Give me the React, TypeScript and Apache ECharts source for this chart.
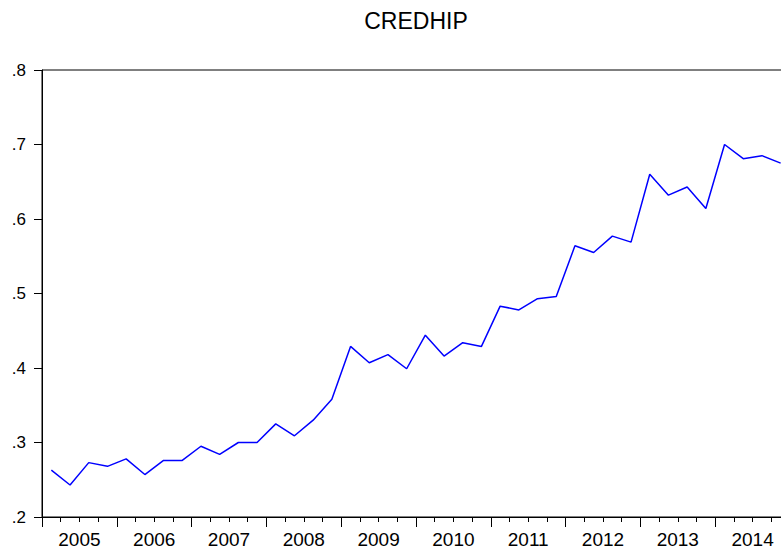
import React, { useEffect, useRef } from "react";
import * as echarts from "echarts";

const quarters: string[] = [];
const years = ["2005", "2006", "2007", "2008", "2009", "2010", "2011", "2012", "2013", "2014"];
for (const y of years) for (let q = 1; q <= 4; q++) quarters.push(`${y}Q${q}`);

const credhip = [
  0.263, 0.243, 0.273, 0.268, 0.278, 0.257, 0.276, 0.276,
  0.295, 0.284, 0.300, 0.300, 0.325, 0.309, 0.330, 0.358,
  0.429, 0.407, 0.418, 0.399, 0.444, 0.416, 0.434, 0.429,
  0.483, 0.478, 0.493, 0.496, 0.564, 0.555, 0.577, 0.569,
  0.660, 0.632, 0.643, 0.614, 0.700, 0.681, 0.685, 0.675,
];

const yMin = 0.2;
const yMax = 0.8;
const yStep = 0.1;

export default function App() {
  const ref = useRef<HTMLDivElement>(null);
  useEffect(() => {
    if (!ref.current) return;
    const chart = echarts.init(ref.current, undefined, { renderer: "svg" });
    const font = "'Liberation Sans', Arial, sans-serif";
    chart.setOption({
      animation: false,
      backgroundColor: "#ffffff",
      textStyle: { fontFamily: font },
      grid: {
        left: 42,
        top: 70,
        right: 10,
        bottom: 34,
        show: true,
        borderColor: "#000",
        borderWidth: 1,
        backgroundColor: "transparent",
      },
      graphic: [
        {
          type: "text",
          x: 416,
          y: 9,
          style: {
            text: "CREDHIP",
            fontSize: 23,
            fontFamily: font,
            fill: "#000",
            textAlign: "center",
            textVerticalAlign: "top",
          },
        },
      ],
      xAxis: [
        {
          type: "category",
          data: quarters,
          boundaryGap: true,
          axisLine: { show: true, lineStyle: { color: "#000", width: 1 } },
          axisTick: { show: true, interval: 0, length: 5, lineStyle: { color: "#000" } },
          axisLabel: { show: false },
          splitLine: { show: false },
        },
        {
          type: "category",
          data: years,
          position: "bottom",
          boundaryGap: true,
          axisLine: { show: true, lineStyle: { color: "#000", width: 1 } },
          axisTick: { show: true, interval: 0, length: 10, lineStyle: { color: "#000" } },
          axisLabel: { show: true, interval: 0, fontSize: 19, color: "#000", margin: 13, fontFamily: font },
          splitLine: { show: false },
        },
      ],
      yAxis: {
        type: "value",
        min: yMin,
        max: yMax,
        interval: yStep,
        axisLine: { show: true, lineStyle: { color: "#000", width: 1 } },
        axisTick: { show: true, length: 8, lineStyle: { color: "#000" } },
        axisLabel: {
          fontSize: 17,
          color: "#000",
          margin: 16,
          fontFamily: font,
          formatter: (v: number) => v.toFixed(1).replace(/^0/, ""),
        },
        splitLine: { show: false },
      },
      series: [
        {
          type: "line",
          xAxisIndex: 0,
          data: credhip,
          showSymbol: false,
          lineStyle: { color: "#0000ff", width: 1.5 },
          itemStyle: { color: "#0000ff" },
        },
      ],
    });
    return () => chart.dispose();
  }, []);
  return (
    <div style={{ position: "fixed", left: 0, top: 0, width: 781, height: 551, overflow: "hidden", background: "#fff" }}>
      <div ref={ref} style={{ width: 800, height: 551 }} />
    </div>
  );
}
